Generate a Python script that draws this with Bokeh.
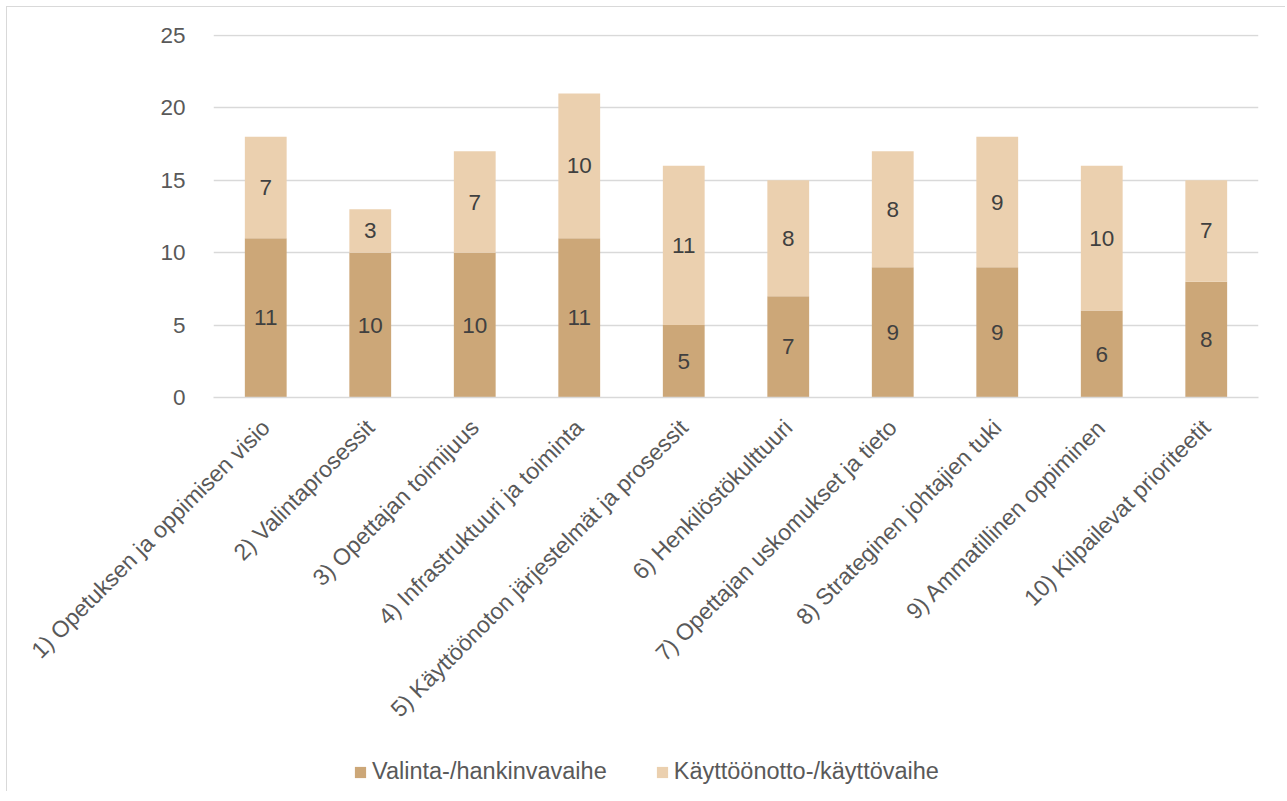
import math
from bokeh.plotting import figure
from bokeh.layouts import column
from bokeh.models import ColumnDataSource, FactorRange, Range1d, Legend, LegendItem, LabelSet
from bokeh.core.properties import value
from bokeh.embed import file_html
from bokeh.resources import INLINE

categories = [
    "1) Opetuksen ja oppimisen visio",
    "2) Valintaprosessit",
    "3) Opettajan toimijuus",
    "4) Infrastruktuuri ja toiminta",
    "5) Käyttöönoton järjestelmät ja prosessit",
    "6) Henkilöstökulttuuri",
    "7) Opettajan uskomukset ja tieto",
    "8) Strateginen johtajien tuki",
    "9) Ammatillinen oppiminen",
    "10) Kilpailevat prioriteetit",
]
valinta = [11, 10, 10, 11, 5, 7, 9, 9, 6, 8]
kaytto = [7, 3, 7, 10, 11, 8, 8, 9, 10, 7]
series_names = ["Valinta-/hankinvavaihe", "Käyttöönotto-/käyttövaihe"]
y_ticks = [0, 5, 10, 15, 20, 25]

C_DARK = "#CCA778"
C_LIGHT = "#EBD0AF"
TXT = "#595959"
LBL = "#404040"
FONT = "Liberation Sans"
FS = "22.5px"
FS_X = "23px"
FS_LEG = "23.5px"
W = 1278

src = ColumnDataSource(dict(
    cat=categories,
    valinta=valinta,
    kaytto=kaytto,
    mid1=[v / 2 for v in valinta],
    mid2=[v + k / 2 for v, k in zip(valinta, kaytto)],
    t1=[str(v) for v in valinta],
    t2=[str(k) for k in kaytto],
))

p = figure(
    x_range=FactorRange(factors=categories, range_padding=0),
    y_range=Range1d(0, 25.07),
    width=W, height=744,
    output_backend="svg", toolbar_location=None,
    min_border_left=206, min_border_right=27, min_border_top=27,
    min_border_bottom=354,
)
p.outline_line_color = None

r = p.vbar_stack(["valinta", "kaytto"], x="cat", width=0.4, source=src,
                 color=[C_DARK, C_LIGHT], line_color=None)

for col, txt in (("mid1", "t1"), ("mid2", "t2")):
    p.add_layout(LabelSet(x="cat", y=col, text=txt, source=src, text_align="center",
                          text_baseline="middle", text_font=value(FONT),
                          text_font_size=value(FS), text_color=LBL))

p.xgrid.grid_line_color = None
p.ygrid.grid_line_color = "#D9D9D9"
p.ygrid.grid_line_width = 1.5
p.yaxis.ticker = y_ticks
p.yaxis.axis_line_color = None
p.yaxis.major_tick_line_color = None
p.yaxis.minor_tick_line_color = None
p.yaxis.major_label_text_font = FONT
p.yaxis.major_label_text_font_size = FS
p.yaxis.major_label_text_color = TXT
p.yaxis.major_label_standoff = 22

p.xaxis.axis_line_color = "#D9D9D9"
p.xaxis.axis_line_width = 1.5
p.xaxis.major_tick_line_color = None
p.xaxis.major_label_orientation = math.pi / 4
p.xaxis.major_label_text_font = FONT
p.xaxis.major_label_text_font_size = FS_X
p.xaxis.major_label_text_color = TXT
p.xaxis.major_label_standoff = 20

# legend strip
p2 = figure(width=W, height=40, x_range=Range1d(0, 1), y_range=Range1d(0, 1),
            output_backend="svg", toolbar_location=None,
            min_border=0, min_border_left=0, min_border_right=0,
            min_border_top=0, min_border_bottom=0)
p2.axis.visible = False
p2.grid.visible = False
p2.outline_line_color = None
swatch = ColumnDataSource(dict(x=[-5.0], top=[0.0]))
g1 = p2.vbar(x="x", top="top", width=0.1, source=swatch, color=C_DARK, line_color=None)
g2 = p2.vbar(x="x", top="top", width=0.1, source=swatch, color=C_LIGHT, line_color=None)
legend = Legend(items=[LegendItem(label=series_names[0], renderers=[g1]),
                       LegendItem(label=series_names[1], renderers=[g2])],
                orientation="horizontal", location=(140, 6),
                label_text_font=FONT, label_text_font_size=FS_LEG, label_text_color=TXT,
                glyph_width=14, glyph_height=14, spacing=48, label_standoff=5,
                border_line_color=None, background_fill_alpha=0, margin=0, padding=4)
p2.add_layout(legend, "center")

layout = column(p, p2, spacing=0, styles={
    "border-left": "1px solid #D9D9D9",
    "border-top": "1px solid #D9D9D9",
    "margin-left": "6px",
    "margin-top": "6px",
})
open("out.html", "w").write(file_html(layout, INLINE))
